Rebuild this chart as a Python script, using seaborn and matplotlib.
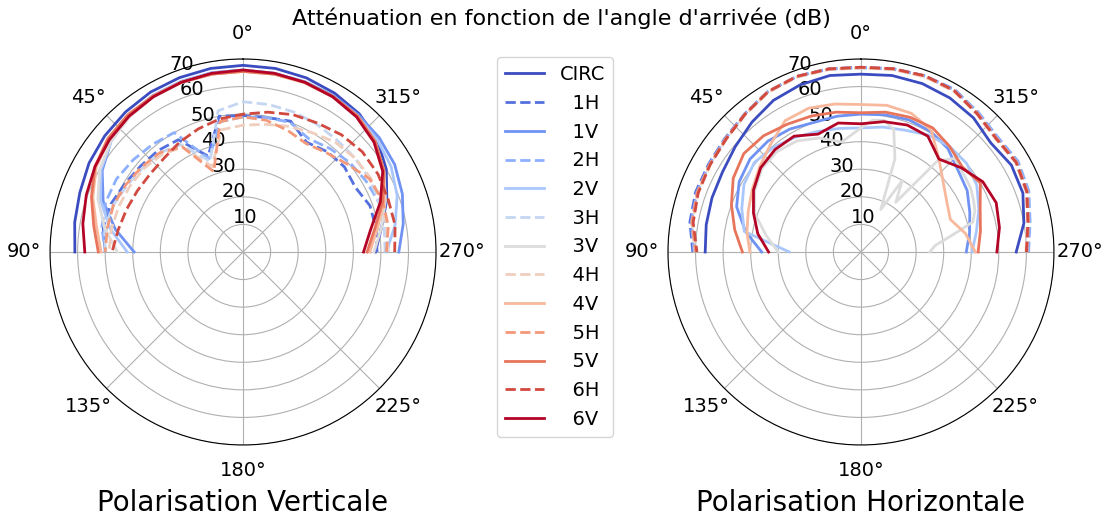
import numpy as np
import seaborn as sns
import matplotlib.pyplot as plt

# angle of arrival in degrees (positive = towards the left, 0 = top)
angles = [-90, -80, -70, -60, -50, -40, -30, -20, -10, 0, 10, 20, 30, 40, 50, 60, 70, 80, 90]

# the grey 3V curve of the horizontal plot is read on a finer grid on its right side
angles_h3v = [-90, -85, -80, -75, -70, -65, -60, -55, -50, -45, -40, -35, -30, -25, -20, -15, -10, -5,
              0, 10, 20, 30, 40, 50, 60, 70, 80, 90]

series = ['CIRC', '1H', '1V', '2H', '2V', '3H', '3V', '4H', '4V', '5H', '5V', '6H', '6V']

# attenuation (dB) - vertical polarisation
v_circ = [48, 51, 55.5, 60, 63.5, 65.5, 66.5, 67.2, 67.6, 67.7, 67.6, 67.3, 67, 66.3, 65.5, 64.5, 63, 62, 61]
v_1h = [48.6, 49, 49, 47, 48, 47.5, 46, 50.5, 49.5, 49.5, 50, 37, 47, 48, 48.5, 49.5, 51, 51.5, 50]
v_1v = [56.5, 59, 61.5, 63.5, 64.5, 65, 65.5, 65.7, 65.8, 66, 66, 65.8, 65.5, 64.5, 62.5, 59, 54, 47, 39.5]
v_2h = [52.6, 53, 52.5, 51.5, 50.5, 49, 47.5, 50, 49.5, 49, 48, 36, 50, 51, 52, 53, 53, 52, 50]
v_2v = [52, 56, 59.5, 62, 63.5, 64.5, 65.2, 65.5, 65.8, 66, 66, 65.8, 65.3, 64.5, 62.5, 59.5, 55, 49, 42]
v_3h = [51.5, 52, 52.5, 53, 53, 53, 53.5, 54, 54.3, 54.5, 52, 35, 45, 47, 47.5, 48.5, 50, 51, 50]
v_3v = [47.5, 51, 55, 59, 62, 64, 65, 65.3, 65.5, 65.5, 65.5, 65.3, 65, 64, 62.5, 60, 56, 51, 45.6]
v_4h = [52.5, 53, 53.5, 53.5, 53, 52, 50, 48.5, 47, 46, 45, 33, 44, 46, 47, 47.5, 48, 48.5, 48.6]
v_4v = [46, 49.5, 54.5, 59, 62.5, 64.5, 65, 65.3, 65.5, 65.5, 65.5, 65.5, 65.3, 64.5, 63.5, 61.5, 58, 54, 51.5]
v_5h = [52, 53.5, 54, 53, 49.5, 47, 45.5, 47, 48.5, 49, 48, 31, 44, 47, 48, 49, 50, 50, 50]
v_5v = [45, 48.5, 54, 59, 62.5, 64.5, 65.2, 65.5, 65.5, 65.5, 65.5, 65.5, 65.3, 65, 64, 62, 58.5, 55, 52.5]
v_6h = [55, 56, 56, 56.5, 56.5, 55.5, 54, 53, 51.5, 50, 49, 47.5, 46, 44.5, 44, 44.3, 45, 46, 47.5]
v_6v = [43.7, 47, 53, 58.5, 62, 64, 65, 65.5, 65.8, 66, 65.8, 65.5, 65, 64.3, 63.3, 62, 60.5, 59, 57.4]

# attenuation (dB) - horizontal polarisation
h_circ = [56.3, 60, 62.5, 63, 61.5, 63.5, 64.5, 65, 65, 64.5, 65, 64.5, 63.5, 61.5, 59.5, 58, 57.5, 57, 56.5]
h_1h = [60.5, 62, 64.5, 65.5, 64.5, 66, 68, 68, 67.5, 67, 67.5, 67.8, 67.3, 65.5, 64.3, 63.8, 63.8, 63, 61]
h_1v = [38.2, 40, 42, 44.5, 46, 49, 50.5, 51, 50.5, 50, 50, 50, 51.5, 52.5, 52.5, 51, 48, 42.5, 36]
h_2h = [60.8, 62.3, 64.8, 65.8, 64.8, 66.2, 67.8, 67.8, 67.3, 66.8, 67.3, 67.8, 67.3, 65.5, 64, 63.5, 63.3, 62.5, 60.5]
h_2v = [40.3, 42.5, 45.5, 48.5, 50, 50, 49, 47, 46, 45, 45.5, 46.5, 48, 49.5, 50.5, 49, 46, 43, 26]
h_3h = [60, 61.5, 64, 65, 64, 65.5, 67.5, 67.8, 67.3, 66.8, 67.2, 67.6, 67, 65.2, 63.8, 63.3, 63, 62.2, 60.2]
h_3v = [25, 27, 33, 42, 44, 45, 46, 46.5, 47, 48, 43, 22, 30, 17, 36, 46, 48.5, 48, 45,
        40.5, 44, 46.5, 47.5, 47, 44.5, 41, 35, 30]
h_4h = [59.8, 61.3, 63.8, 64.8, 63.8, 65.3, 67.3, 67.6, 67.2, 66.7, 67.2, 67.5, 67, 65.2, 63.7, 63.2, 63, 62, 60]
h_4v = [41.5, 38.5, 34.5, 36, 39, 44, 51, 53.5, 54, 53.5, 54.5, 55.5, 55, 51, 48, 45.5, 43.5, 42, 40.3]
h_5h = [60.2, 61.7, 64.2, 65.2, 64.2, 65.7, 67.6, 67.9, 67.4, 67, 67.4, 67.8, 67.3, 65.4, 64, 63.4, 63.2, 62.3, 60]
h_5v = [42.5, 44, 46, 50, 48, 50, 52, 52, 51.5, 50.5, 51.5, 52.5, 53.5, 55, 55.5, 53.5, 50, 46.5, 43]
h_6h = [60, 61.5, 64, 65, 64, 65.5, 67.6, 68, 67.5, 67, 67.4, 67.8, 67.2, 65.3, 63.8, 63.2, 62.8, 61.8, 59.5]
h_6v = [49.3, 51, 52.2, 51, 47.5, 44, 48.5, 49, 48, 46.5, 47.5, 45.5, 48.5, 48.5, 47.5, 45, 41.5, 38, 33.5]

v_data = [v_circ, v_1h, v_1v, v_2h, v_2v, v_3h, v_3v, v_4h, v_4v, v_5h, v_5v, v_6h, v_6v]
h_data = [h_circ, h_1h, h_1v, h_2h, h_2v, h_3h, h_3v, h_4h, h_4v, h_5h, h_5v, h_6h, h_6v]

colors = plt.get_cmap('coolwarm')(np.linspace(0, 1, len(series)))

fig = plt.figure(figsize=(11.07, 5.17), dpi=100)
ax_v = fig.add_axes([0.0452, 0.1393, 0.3487, 0.7466], projection='polar')
ax_h = fig.add_axes([0.6034, 0.1393, 0.3487, 0.7466], projection='polar')

for ax, data, name in [(ax_v, v_data, 'Polarisation Verticale'), (ax_h, h_data, 'Polarisation Horizontale')]:
    for i, serie in enumerate(series):
        # dashed for H, solid for V and CIRC
        ls = '--' if serie.endswith('H') else '-'
        theta = angles_h3v if (ax is ax_h and serie == '3V') else angles
        sns.lineplot(x=np.deg2rad(theta), y=data[i], ax=ax, color=colors[i], linestyle=ls,
                     linewidth=2, label=serie if len(serie) > 2 else '  ' + serie, legend=False)
    ax.set_theta_zero_location('N')
    ax.set_ylim(0, 70)
    ax.set_yticks(range(10, 80, 10))
    ax.tick_params(labelsize=14)
    ax.xaxis.set_tick_params(pad=8)
    ax.set_xlabel('')
    ax.set_ylabel('')
    ax.text(0.5, -0.15, name, transform=ax.transAxes, ha='center', va='center', fontsize=20)

fig.text(0.507, 0.965, "Atténuation en fonction de l'angle d'arrivée (dB)", ha='center', va='center', fontsize=16)

handles, labels = ax_v.get_legend_handles_labels()
fig.legend(handles, labels, loc='center', bbox_to_anchor=(555 / 1107, 1 - 247 / 517), fontsize=14)

fig.savefig('out.png', dpi=100)
